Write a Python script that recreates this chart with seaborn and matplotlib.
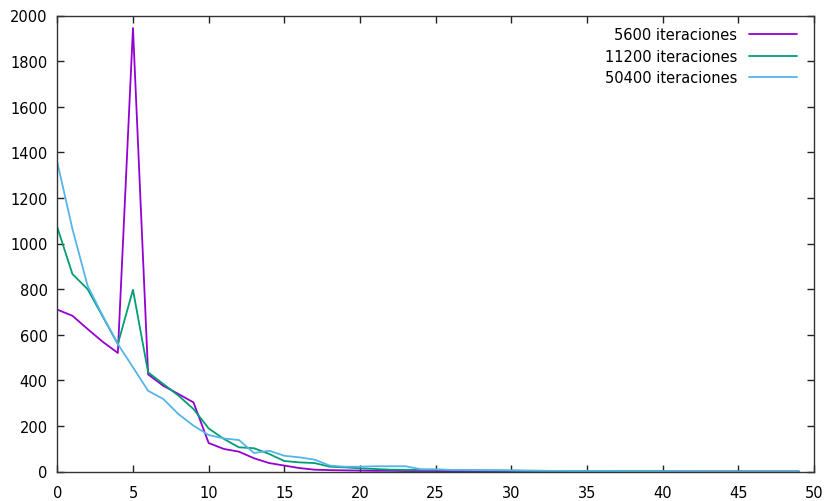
import matplotlib
matplotlib.use("Agg")
import matplotlib.pyplot as plt
import seaborn as sns
import pandas as pd

labels = ["5600 iteraciones", "11200 iteraciones", "50400 iteraciones"]
colors = ["#9400D3", "#009E73", "#56B4E9"]

x_vals = list(range(50))
s5600 = [710, 683, 625, 569, 520, 1945, 426, 376, 340, 303, 125, 99, 87, 58, 37, 26, 15, 8, 6, 5,
         4, 3, 3, 2, 2, 2, 1, 1, 1, 1, 1, 1, 0, 0, 0, 0, 0, 0, 0, 0,
         0, 0, 0, 0, 0, 0, 0, 0, 0, 0]
s11200 = [1071, 866, 800, 680, 559, 797, 435, 384, 333, 274, 189, 143, 106, 102, 77, 46, 40, 37, 21, 18,
          14, 11, 8, 7, 8, 7, 6, 5, 5, 4, 4, 3, 3, 2, 2, 2, 1, 1, 1, 1,
          1, 0, 0, 0, 0, 0, 0, 0, 0, 0]
s50400 = [1356, 1064, 815, 683, 559, 457, 354, 318, 252, 201, 160, 145, 138, 81, 91, 69, 62, 52, 26, 21,
          21, 23, 23, 23, 10, 10, 7, 7, 6, 6, 5, 4, 3, 3, 2, 2, 2, 1, 1, 1,
          1, 1, 1, 0, 0, 0, 0, 0, 0, 0]

xticks = [0, 5, 10, 15, 20, 25, 30, 35, 40, 45, 50]
yticks = [0, 200, 400, 600, 800, 1000, 1200, 1400, 1600, 1800, 2000]

frames = []
for lab, ser in zip(labels, [s5600, s11200, s50400]):
    frames.append(pd.DataFrame({"x": x_vals, "y": ser, "serie": lab}))
df = pd.concat(frames, ignore_index=True)

sns.set_style("white")
plt.rcParams["font.family"] = ["DejaVu Sans"]
plt.rcParams["text.color"] = "black"
plt.rcParams["xtick.color"] = "black"
plt.rcParams["ytick.color"] = "black"

fig = plt.figure(figsize=(8.26, 5.02), dpi=100)
ax = fig.add_axes([57.3 / 826, (502 - 472.5) / 502, (814 - 57.3) / 826, (472.5 - 16.5) / 502])

sns.lineplot(data=df, x="x", y="y", hue="serie", hue_order=labels,
             palette=colors, linewidth=1.3, ax=ax, legend=False)

ax.set_xlim(0, 50)
ax.set_ylim(0, 2000)
ax.set_xticks(xticks)
ax.set_yticks(yticks)
ax.set_xlabel("")
ax.set_ylabel("")
ax.tick_params(direction="in", length=5, width=1, color="#222222",
               top=True, right=True, bottom=True, left=True,
               labelsize=10.5, labelcolor="black")
ax.tick_params(axis="x", pad=10)
ax.tick_params(axis="y", pad=7)
for sp in ax.spines.values():
    sp.set_color("#333333")
    sp.set_linewidth(1.0)

handles = [plt.Line2D([], [], color=c, linewidth=1.3) for c in colors]
leg = ax.legend(handles, labels, loc="upper right", frameon=False,
                markerfirst=False, fontsize=10.5, handlelength=3.3,
                handletextpad=0.8, labelspacing=0.45,
                bbox_to_anchor=(0.995, 1.003))
for t in leg.get_texts():
    t.set_ha("right")
    t.set_color("black")

fig.savefig("out.png", dpi=100)
